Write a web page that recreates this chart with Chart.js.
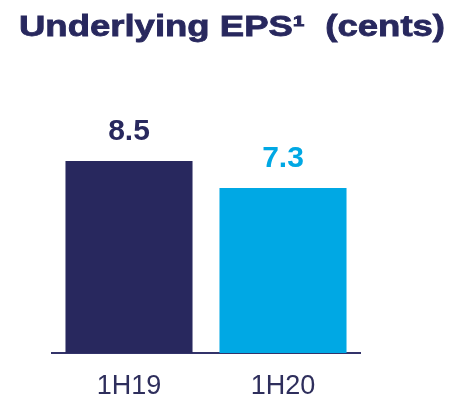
<!DOCTYPE html>
<html>
<head>
<meta charset="utf-8">
<script src="https://cdn.jsdelivr.net/npm/chart.js@4"></script>
<style>
  html, body { margin: 0; padding: 0; background: #fff; }
  #wrap { width: 451px; height: 400px; }
</style>
</head>
<body>
<div id="wrap"><canvas id="eps"></canvas></div>
<script>
// --- data ---
const periods = ['1H19', '1H20'];
const epsValues = [8.5, 7.3];
const barColors = ['#28285e', '#00a8e4'];
const titleText = 'Underlying EPS\u00B9  (cents)';

const NAVY = '#28285e';
const FONT = '"Liberation Sans", Arial, sans-serif';

// heavy, wide title (the original uses a black-weight face)
const wideTitle = {
  id: 'wideTitle',
  afterDraw(chart) {
    const { ctx } = chart;
    ctx.save();
    ctx.font = 'bold 29px ' + FONT;
    ctx.fillStyle = NAVY;
    ctx.textBaseline = 'alphabetic';
    const w = ctx.measureText(titleText).width;
    const sx = 426 / w;
    ctx.translate(19, 36);
    ctx.scale(sx, 1);
    ctx.lineWidth = 0.8;
    ctx.strokeStyle = NAVY;
    ctx.fillText(titleText, 0, 0);
    ctx.strokeText(titleText, 0, 0);
    ctx.restore();
  }
};

// value labels above each bar
const valueLabels = {
  id: 'valueLabels',
  afterDatasetsDraw(chart) {
    const { ctx } = chart;
    const meta = chart.getDatasetMeta(0);
    ctx.save();
    ctx.font = 'bold 30px ' + FONT;
    ctx.textAlign = 'center';
    ctx.textBaseline = 'middle';
    meta.data.forEach((bar, i) => {
      ctx.fillStyle = barColors[i];
      ctx.fillText(epsValues[i].toFixed(1), bar.x, bar.y - 29);
    });
    ctx.restore();
  }
};

new Chart(document.getElementById('eps'), {
  type: 'bar',
  data: {
    labels: periods,
    datasets: [{
      data: epsValues,
      backgroundColor: barColors,
      borderWidth: 0,
      categoryPercentage: 1,
      barPercentage: 0.825
    }]
  },
  options: {
    responsive: true,
    maintainAspectRatio: false,
    animation: false,
    layout: { padding: { left: 52, right: 91, top: 127, bottom: 0 } },
    plugins: {
      legend: { display: false },
      tooltip: { enabled: false },
      title: { display: false }
    },
    scales: {
      x: {
        grid: { display: false },
        border: { display: true, color: '#33336a', width: 2 },
        ticks: {
          color: '#2e2e5c',
          padding: 9,
          font: { family: FONT, size: 27 }
        },
        afterFit(s) { s.height = 47; }
      },
      y: {
        display: false,
        min: 0,
        max: 10
      }
    }
  },
  plugins: [valueLabels, wideTitle]
});
</script>
</body>
</html>
